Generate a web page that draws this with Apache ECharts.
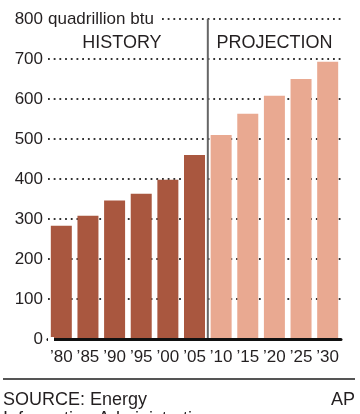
<!DOCTYPE html>
<html>
<head>
<meta charset="utf-8">
<script src="https://cdn.jsdelivr.net/npm/echarts@6/dist/echarts.min.js"></script>
<style>
html,body{margin:0;padding:0;background:#fff;}
#chart{width:360px;height:414px;}
</style>
</head>
<body>
<div id="chart"></div>
<script>
// Data
const categories = ['\u201980','\u201985','\u201990','\u201995','\u201900','\u201905','\u201910','\u201915','\u201920','\u201925','\u201930'];
const historyValues = [283, 308, 346, 363, 398, 460, null, null, null, null, null];
const projectionValues = [null, null, null, null, null, null, 510, 563, 608, 650, 693];
const yTicks = [0, 100, 200, 300, 400, 500, 600, 700, 800];
const unitLabel = 'quadrillion btu';
const historyLabel = 'HISTORY';
const projectionLabel = 'PROJECTION';
const historyCount = 6;
const sourceText = 'SOURCE: Energy\nInformation Administration';
const creditText = 'AP';

const FONT = '"Liberation Sans", Arial, Helvetica, sans-serif';
const TXT = '#231f20';

const chart = echarts.init(document.getElementById('chart'), null, {renderer: 'canvas'});
const yMax = yTicks[yTicks.length - 1];
const yStep = yTicks[1] - yTicks[0];

chart.setOption({
  animation: false,
  backgroundColor: '#fff',
  grid: {left: 48, right: 19, top: 19, bottom: 75, containLabel: false},
  xAxis: [{
    type: 'category',
    data: categories,
    axisLine: {show: true, lineStyle: {color: '#111', width: 3}},
    axisTick: {show: false},
    axisLabel: {interval: 0, fontSize: 17, color: TXT, fontFamily: FONT, margin: 10},
    z: 5
  }, {
    type: 'value', min: 0, max: categories.length, show: false
  }],
  yAxis: [{
    type: 'value', min: 0, max: yMax, interval: yStep,
    axisLine: {show: false}, axisTick: {show: false},
    axisLabel: {fontSize: 17, color: TXT, fontFamily: FONT, margin: 5},
    splitLine: {show: true, lineStyle: {color: '#333', width: 1.8, type: [1.8, 3.9], cap: 'butt'}}
  }, {
    type: 'value', min: 0, max: yMax, interval: yMax, position: 'left',
    axisLine: {show: false}, axisTick: {show: false}, splitLine: {show: false},
    axisLabel: {
      inside: true, margin: 0, fontSize: 17, color: TXT, fontFamily: FONT,
      backgroundColor: '#fff', padding: [2, 6, 2, 0],
      formatter: v => v === yMax ? unitLabel : ''
    },
    z: 6
  }],
  series: [{
    type: 'bar', name: 'history', data: historyValues, barWidth: 21, barGap: '-100%',
    itemStyle: {color: '#a9573f'}, z: 2
  }, {
    type: 'bar', name: 'projection', data: projectionValues, barWidth: 21, barGap: '-100%',
    itemStyle: {color: '#e9a991'}, z: 2
  }, {
    type: 'line', xAxisIndex: 1, yAxisIndex: 0,
    data: [[historyCount, 0], [historyCount, yMax]],
    symbol: 'none', lineStyle: {color: '#666', width: 2}, z: 4, silent: true,
    markArea: {
      silent: true,
      itemStyle: {color: 'rgba(0,0,0,0)'},
      label: {position: 'insideTop', distance: 15, fontSize: 18, color: TXT, fontFamily: FONT},
      data: [
        [{xAxis: 0, yAxis: 0, name: historyLabel, label: {offset: [-6, 0]}}, {xAxis: historyCount, yAxis: yMax}],
        [{xAxis: historyCount, yAxis: 0, name: projectionLabel}, {xAxis: categories.length, yAxis: yMax}]
      ]
    }
  }],
  graphic: [
    {type: 'line', shape: {x1: 3, y1: 379, x2: 355, y2: 379}, style: {stroke: '#555', lineWidth: 2}},
    {type: 'text', x: 3, y: 391, style: {text: sourceText, font: '18px ' + FONT, fill: TXT, lineHeight: 19, verticalAlign: 'top'}},
    {type: 'text', x: 355, y: 391, style: {text: creditText, font: '18px ' + FONT, fill: TXT, align: 'right', lineHeight: 19, verticalAlign: 'top'}}
  ]
});
</script>
</body>
</html>
